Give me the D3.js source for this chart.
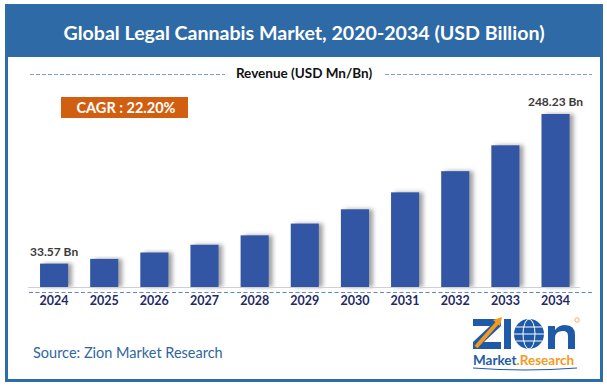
<!DOCTYPE html>
<html>
<head>
<meta charset="utf-8">
<script src="https://cdn.jsdelivr.net/npm/d3@7"></script>
<style>
  body { margin: 0; background: #fff; }
  svg { display: block; font-family: Lato, "Open Sans", sans-serif; }
</style>
</head>
<body>
<svg id="chart" width="607" height="387"></svg>
<script>
var years = ['2024','2025','2026','2027','2028','2029','2030','2031','2032','2033','2034'];
var revenue = [33.57, 40.3, 49.5, 60.6, 74.1, 91.0, 111.5, 135.8, 166.2, 203.3, 248.23];
var firstLabel = '33.57 Bn';
var lastLabel = '248.23 Bn';
var titleText = 'Global Legal Cannabis Market, 2020-2034 (USD Billion)';
var legendText = 'Revenue (USD Mn/Bn)';
var cagrText = 'CAGR : 22.20%';
var sourceText = 'Source: Zion Market Research';

var svg = d3.select('#chart');

// drop shadow for the bars
var defs = svg.append('defs');
var f = defs.append('filter').attr('id', 'shadow')
  .attr('x', '-20%').attr('y', '-10%').attr('width', '160%').attr('height', '120%');
f.append('feDropShadow')
  .attr('dx', 4).attr('dy', 0).attr('stdDeviation', 2)
  .attr('flood-color', '#555').attr('flood-opacity', 0.55);

// frame + title band
svg.append('rect')
  .attr('x', 6.5).attr('y', 5.5).attr('width', 595).attr('height', 375)
  .attr('fill', '#fff').attr('stroke', '#2e6da8').attr('stroke-width', 3);
svg.append('rect')
  .attr('x', 6).attr('y', 5).attr('width', 596).attr('height', 52)
  .attr('fill', '#2e6aa6');
svg.append('text')
  .attr('x', 304).attr('y', 39.5)
  .attr('text-anchor', 'middle')
  .attr('fill', '#fff').attr('font-weight', 'bold').attr('font-size', 19.6)
  .text(titleText);

// legend row
svg.append('text')
  .attr('x', 304).attr('y', 78)
  .attr('text-anchor', 'middle')
  .attr('fill', '#111').attr('font-weight', 'bold').attr('font-size', 13.5)
  .text(legendText);
[[30, 225], [385, 592]].forEach(function(seg){
  svg.append('line')
    .attr('x1', seg[0]).attr('x2', seg[1]).attr('y1', 74.5).attr('y2', 74.5)
    .attr('stroke', '#7f9fcf').attr('stroke-width', 1).attr('stroke-dasharray', '4,2');
});

// CAGR badge
svg.append('rect')
  .attr('x', 61).attr('y', 97).attr('width', 127).attr('height', 21)
  .attr('fill', '#d25f10');
svg.append('text')
  .attr('x', 126).attr('y', 112.5)
  .attr('text-anchor', 'middle')
  .attr('fill', '#fff').attr('font-weight', 'bold').attr('font-size', 14.5)
  .text(cagrText);

// scales
var baseY = 287;
var x = d3.scaleBand().domain(years).range([29, 580.6]).paddingInner(0.44).paddingOuter(0.22);
var y = d3.scaleLinear().domain([0, 248.23]).range([baseY, 114]);

var g = svg.append('g');
g.selectAll('rect.bar')
  .data(years)
  .enter()
  .append('rect')
    .attr('class', 'bar')
    .attr('x', function(d){ return x(d); })
    .attr('y', function(d, i){ return y(revenue[i]); })
    .attr('width', x.bandwidth())
    .attr('height', function(d, i){ return baseY - y(revenue[i]); })
    .attr('fill', '#3056a4')
    .attr('filter', 'url(#shadow)');

// baseline + dashed line
svg.append('line')
  .attr('x1', 28).attr('x2', 580).attr('y1', baseY + 0.5).attr('y2', baseY + 0.5)
  .attr('stroke', '#d0d0d0').attr('stroke-width', 1);
svg.append('line')
  .attr('x1', 29).attr('x2', 593).attr('y1', 292.5).attr('y2', 292.5)
  .attr('stroke', '#5b86cc').attr('stroke-width', 1.2).attr('stroke-dasharray', '4,2.5');

// year axis
var xAxis = d3.axisBottom(x).tickSize(0).tickPadding(0);
var ax = svg.append('g').attr('transform', 'translate(0,' + 296 + ')').call(xAxis);
ax.select('.domain').remove();
ax.selectAll('text')
  .attr('dy', '0.71em')
  .attr('fill', '#1f2a66').attr('font-weight', 'bold').attr('font-size', 12.5)
  .attr('font-family', 'Lato, "Open Sans", sans-serif');

// value labels
var lbl = [[0, firstLabel], [years.length - 1, lastLabel]];
lbl.forEach(function(p){
  svg.append('text')
    .attr('x', x(years[p[0]]) + x.bandwidth() / 2)
    .attr('y', y(revenue[p[0]]) - 8)
    .attr('text-anchor', 'middle')
    .attr('fill', '#3a3a3a').attr('font-weight', 'bold').attr('font-size', 12)
    .text(p[1]);
});

// source
svg.append('text')
  .attr('x', 33).attr('y', 358)
  .attr('fill', '#2e66a0').attr('font-size', 14.5)
  .text(sourceText);

// logo (approximation, letters drawn as shapes)
var logo = svg.append('g').attr('transform', 'translate(473,317)');
var blue = '#1e5aa8', orange = '#f39a1e';
logo.append('path')
  .attr('d', 'M0,2 H28 V9 L11,25 H28 V32 H0 V25 L17,9 H0 Z')
  .attr('fill', blue);
logo.append('path')
  .attr('d', 'M3,30 L26,4')
  .attr('stroke', orange).attr('stroke-width', 4).attr('fill', 'none');
logo.append('path')
  .attr('d', 'M20,3 L29,0 L27,9 Z').attr('fill', orange);
logo.append('rect').attr('x', 31).attr('y', 2).attr('width', 7).attr('height', 30).attr('fill', blue);
var globe = logo.append('g').attr('transform', 'translate(56,17)');
globe.append('circle').attr('r', 15).attr('fill', blue);
globe.append('ellipse').attr('rx', 6).attr('ry', 15).attr('fill', 'none').attr('stroke', '#fff').attr('stroke-width', 1);
globe.append('line').attr('x1', -15).attr('x2', 15).attr('y1', 0).attr('y2', 0).attr('stroke', '#fff').attr('stroke-width', 1);
globe.append('line').attr('x1', -13).attr('x2', 13).attr('y1', -7).attr('y2', -7).attr('stroke', '#fff').attr('stroke-width', 1);
globe.append('line').attr('x1', -13).attr('x2', 13).attr('y1', 7).attr('y2', 7).attr('stroke', '#fff').attr('stroke-width', 1);
logo.append('path')
  .attr('d', 'M75,32 V9 H82 V13 Q86,8 92,8 Q102,8 102,18 V32 H95 V19 Q95,14 90,14 Q82,14 82,21 V32 Z')
  .attr('fill', blue);
logo.append('circle').attr('cx', 104).attr('cy', 3).attr('r', 2.2)
  .attr('fill', 'none').attr('stroke', orange).attr('stroke-width', 0.8);
var sub = logo.append('text').attr('x', 0).attr('y', 48).attr('font-weight', 'bold').attr('font-size', 13.5);
sub.append('tspan').attr('fill', blue).text('Market');
sub.append('tspan').attr('fill', orange).text('.Research');
logo.append('path').attr('d', 'M0,51 Q52,55 104,51').attr('stroke', blue).attr('stroke-width', 1).attr('fill', 'none');
</script>
</body>
</html>
